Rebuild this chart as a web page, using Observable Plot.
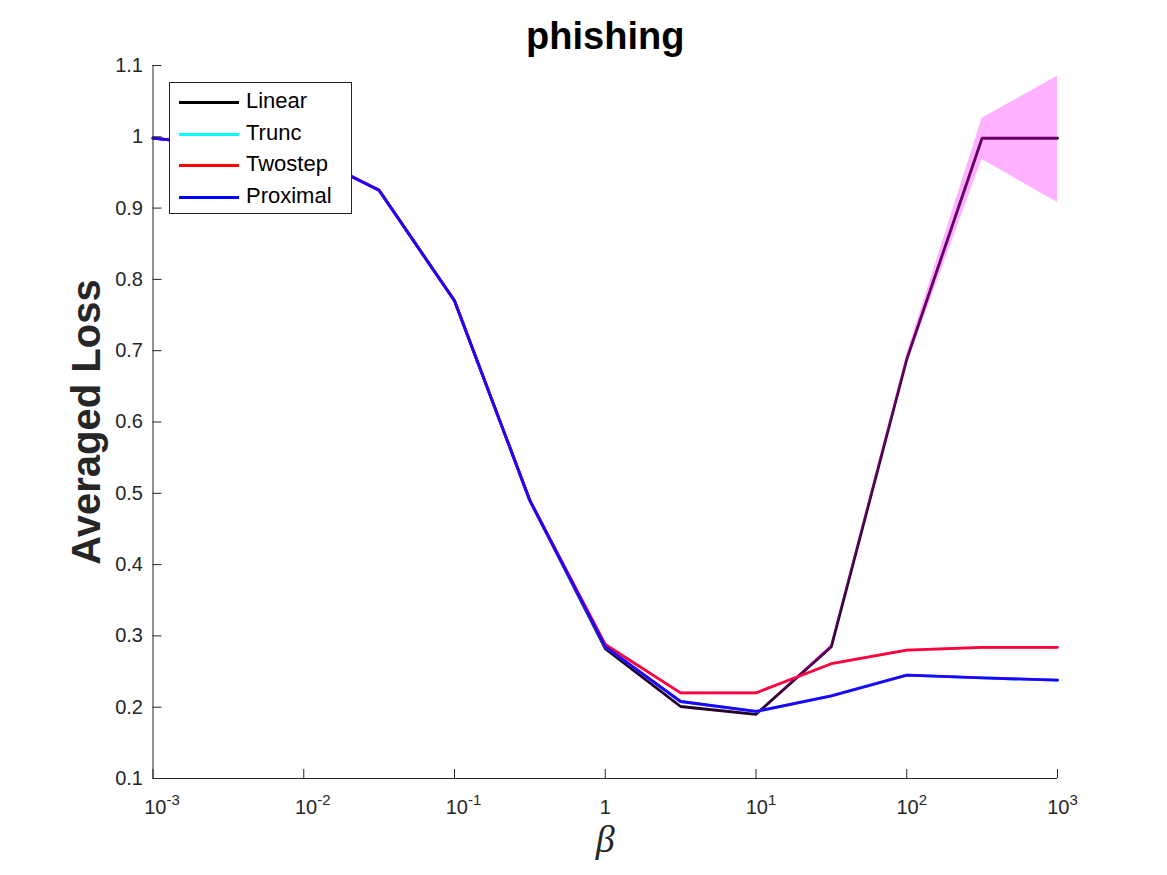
<!DOCTYPE html>
<html>
<head>
<meta charset="utf-8">
<script src="https://cdn.jsdelivr.net/npm/d3@7"></script>
<script src="https://cdn.jsdelivr.net/npm/@observablehq/plot@0.6"></script>
<style>
  html, body { margin: 0; padding: 0; background: #fff; overflow: hidden; }
  #wrap { position: relative; width: 1167px; height: 875px; font-family: "Liberation Sans", Arial, Helvetica, sans-serif; }
  #legend { position: absolute; left: 169px; top: 82px; width: 183px; height: 132px; box-sizing: border-box; border: 1px solid #262626; background: #fff; }
  #legend .sw { position: absolute; left: 9px; width: 60px; height: 3px; }
  #legend .lb { position: absolute; left: 76px; font-size: 22px; line-height: 26px; color: #000; }
</style>
</head>
<body>
<div id="wrap"></div>
<script>
// ---- data ----
const beta = [0.001, 0.00316, 0.01, 0.0316, 0.1, 0.316, 1, 3.16, 10, 31.6, 100, 316, 1000];
const methods = ["Linear", "Trunc", "Twostep", "Proximal"];
const colors = ["#000000", "#00ffff", "#ff0000", "#0000ff"];
const linear   = [0.998, 0.987, 0.978, 0.925, 0.770, 0.490, 0.282, 0.201, 0.190, 0.285, 0.688, 0.998, 0.998];
const trunc    = [0.998, 0.987, 0.978, 0.925, 0.770, 0.490, 0.285, 0.208, 0.194, 0.216, 0.245, 0.241, 0.238];
const twostep  = [0.998, 0.987, 0.978, 0.925, 0.770, 0.490, 0.288, 0.220, 0.220, 0.261, 0.280, 0.284, 0.284];
const proximal = [0.998, 0.987, 0.978, 0.925, 0.770, 0.490, 0.285, 0.208, 0.194, 0.216, 0.245, 0.241, 0.238];
const linearLo = [0.998, 0.987, 0.978, 0.925, 0.770, 0.490, 0.282, 0.201, 0.190, 0.282, 0.681, 0.968, 0.908];
const linearHi = [0.998, 0.987, 0.978, 0.925, 0.770, 0.490, 0.282, 0.201, 0.190, 0.288, 0.695, 1.026, 1.085];
const xTicks = [0.001, 0.01, 0.1, 1, 10, 100, 1000];
const xTickLabels = ["10^-3", "10^-2", "10^-1", "1", "10^1", "10^2", "10^3"];
const yTicks = [0.1, 0.2, 0.3, 0.4, 0.5, 0.6, 0.7, 0.8, 0.9, 1, 1.1];
const yTickLabels = ["0.1", "0.2", "0.3", "0.4", "0.5", "0.6", "0.7", "0.8", "0.9", "1", "1.1"];
const title = "phishing";
const xLabel = "β";
const yLabel = "Averaged Loss";

// ---- build tables ----
const seriesVals = [linear, trunc, twostep, proximal];
const rows = [];
methods.forEach((m, i) => beta.forEach((b, j) => rows.push({method: m, beta: b, loss: seriesVals[i][j]})));
const band = beta.map((b, j) => ({beta: b, lo: linearLo[j], hi: linearHi[j]}));
const axisColor = "#262626";
const W = 1167, H = 875, mL = 152.5, mR = 110, mT = 65, mB = 97;
const tick = 9;
const lw = 2.8;

const lineMark = (m, i) => Plot.line(rows.filter(r => r.method === m), {x: "beta", y: "loss", stroke: colors[i], strokeWidth: lw});
const tintMark = (m, op) => Plot.line(rows.filter(r => r.method === m), {x: "beta", y: "loss", stroke: "#ff00ff", strokeOpacity: op, strokeWidth: lw});

const chart = Plot.plot({
  width: W,
  height: H,
  marginLeft: mL,
  marginRight: mR,
  marginTop: mT,
  marginBottom: mB,
  style: {fontFamily: "'Liberation Sans', Arial, Helvetica, sans-serif", color: axisColor, background: "#fff", overflow: "visible"},
  x: {type: "log", domain: [0.001, 1000], label: null},
  y: {domain: [0.1, 1.1], label: null},
  marks: [
    lineMark("Linear", 0),
    tintMark("Linear", 0.15),
    lineMark("Trunc", 1),
    lineMark("Twostep", 2),
    tintMark("Twostep", 0.25),
    lineMark("Proximal", 3),
    tintMark("Proximal", 0.15),
    Plot.areaY(band, {x: "beta", y1: "lo", y2: "hi", fill: "#ff00ff", fillOpacity: 0.3}),
    Plot.ruleX([0.001], {stroke: axisColor, strokeWidth: 1}),
    Plot.ruleY([0.1], {stroke: axisColor, strokeWidth: 1}),
    Plot.ruleX(xTicks, {x: d => d, stroke: axisColor, strokeWidth: 1, insetTop: H - mT - mB - tick}),
    Plot.ruleY(yTicks, {y: d => d, stroke: axisColor, strokeWidth: 1, insetRight: W - mL - mR - tick}),
    Plot.axisX({ticks: xTicks, tickSize: 0, tickPadding: 21, fontSize: 20, fill: axisColor,
      tickFormat: d => xTickLabels[xTicks.indexOf(d)], label: null}),
    Plot.axisY({ticks: yTicks, tickSize: 0, tickPadding: 10, fontSize: 20, fill: axisColor,
      tickFormat: d => yTickLabels[yTicks.findIndex(t => Math.abs(t - d) < 1e-9)], label: null}),
    Plot.text([title], {frameAnchor: "top", dy: -17, lineAnchor: "bottom", fontSize: 38, fontWeight: "bold", fill: "#000"}),
    Plot.text([yLabel], {frameAnchor: "left", dx: -66, rotate: -90, textAnchor: "middle", fontSize: 40, fontWeight: "bold", fill: axisColor}),
    Plot.text([xLabel], {frameAnchor: "bottom", dy: 73, fontSize: 38, fontStyle: "italic", fontFamily: "'Liberation Serif', 'DejaVu Serif', serif", fill: axisColor})
  ]
});

// superscript exponents on the log axis labels
chart.querySelectorAll("text").forEach(t => {
  const m = /^10\^(.+)$/.exec(t.textContent);
  if (m) {
    t.textContent = "";
    const base = document.createElementNS("http://www.w3.org/2000/svg", "tspan");
    base.textContent = "10";
    const sup = document.createElementNS("http://www.w3.org/2000/svg", "tspan");
    sup.textContent = m[1];
    sup.setAttribute("dy", "-9");
    sup.setAttribute("font-size", "15");
    t.appendChild(base);
    t.appendChild(sup);
    t.setAttribute("dx", (m[1].length > 1 ? 9 : 5));
  }
});

const wrap = document.getElementById("wrap");
wrap.appendChild(chart);

// legend
const legend = document.createElement("div");
legend.id = "legend";
const rowY = [19, 51, 82, 114];
methods.forEach((m, i) => {
  const sw = document.createElement("div");
  sw.className = "sw";
  sw.style.top = (rowY[i] - 1.5) + "px";
  sw.style.background = colors[i];
  legend.appendChild(sw);
  const lb = document.createElement("div");
  lb.className = "lb";
  lb.style.top = (rowY[i] - 14) + "px";
  lb.textContent = m;
  legend.appendChild(lb);
});
wrap.appendChild(legend);
</script>
</body>
</html>
